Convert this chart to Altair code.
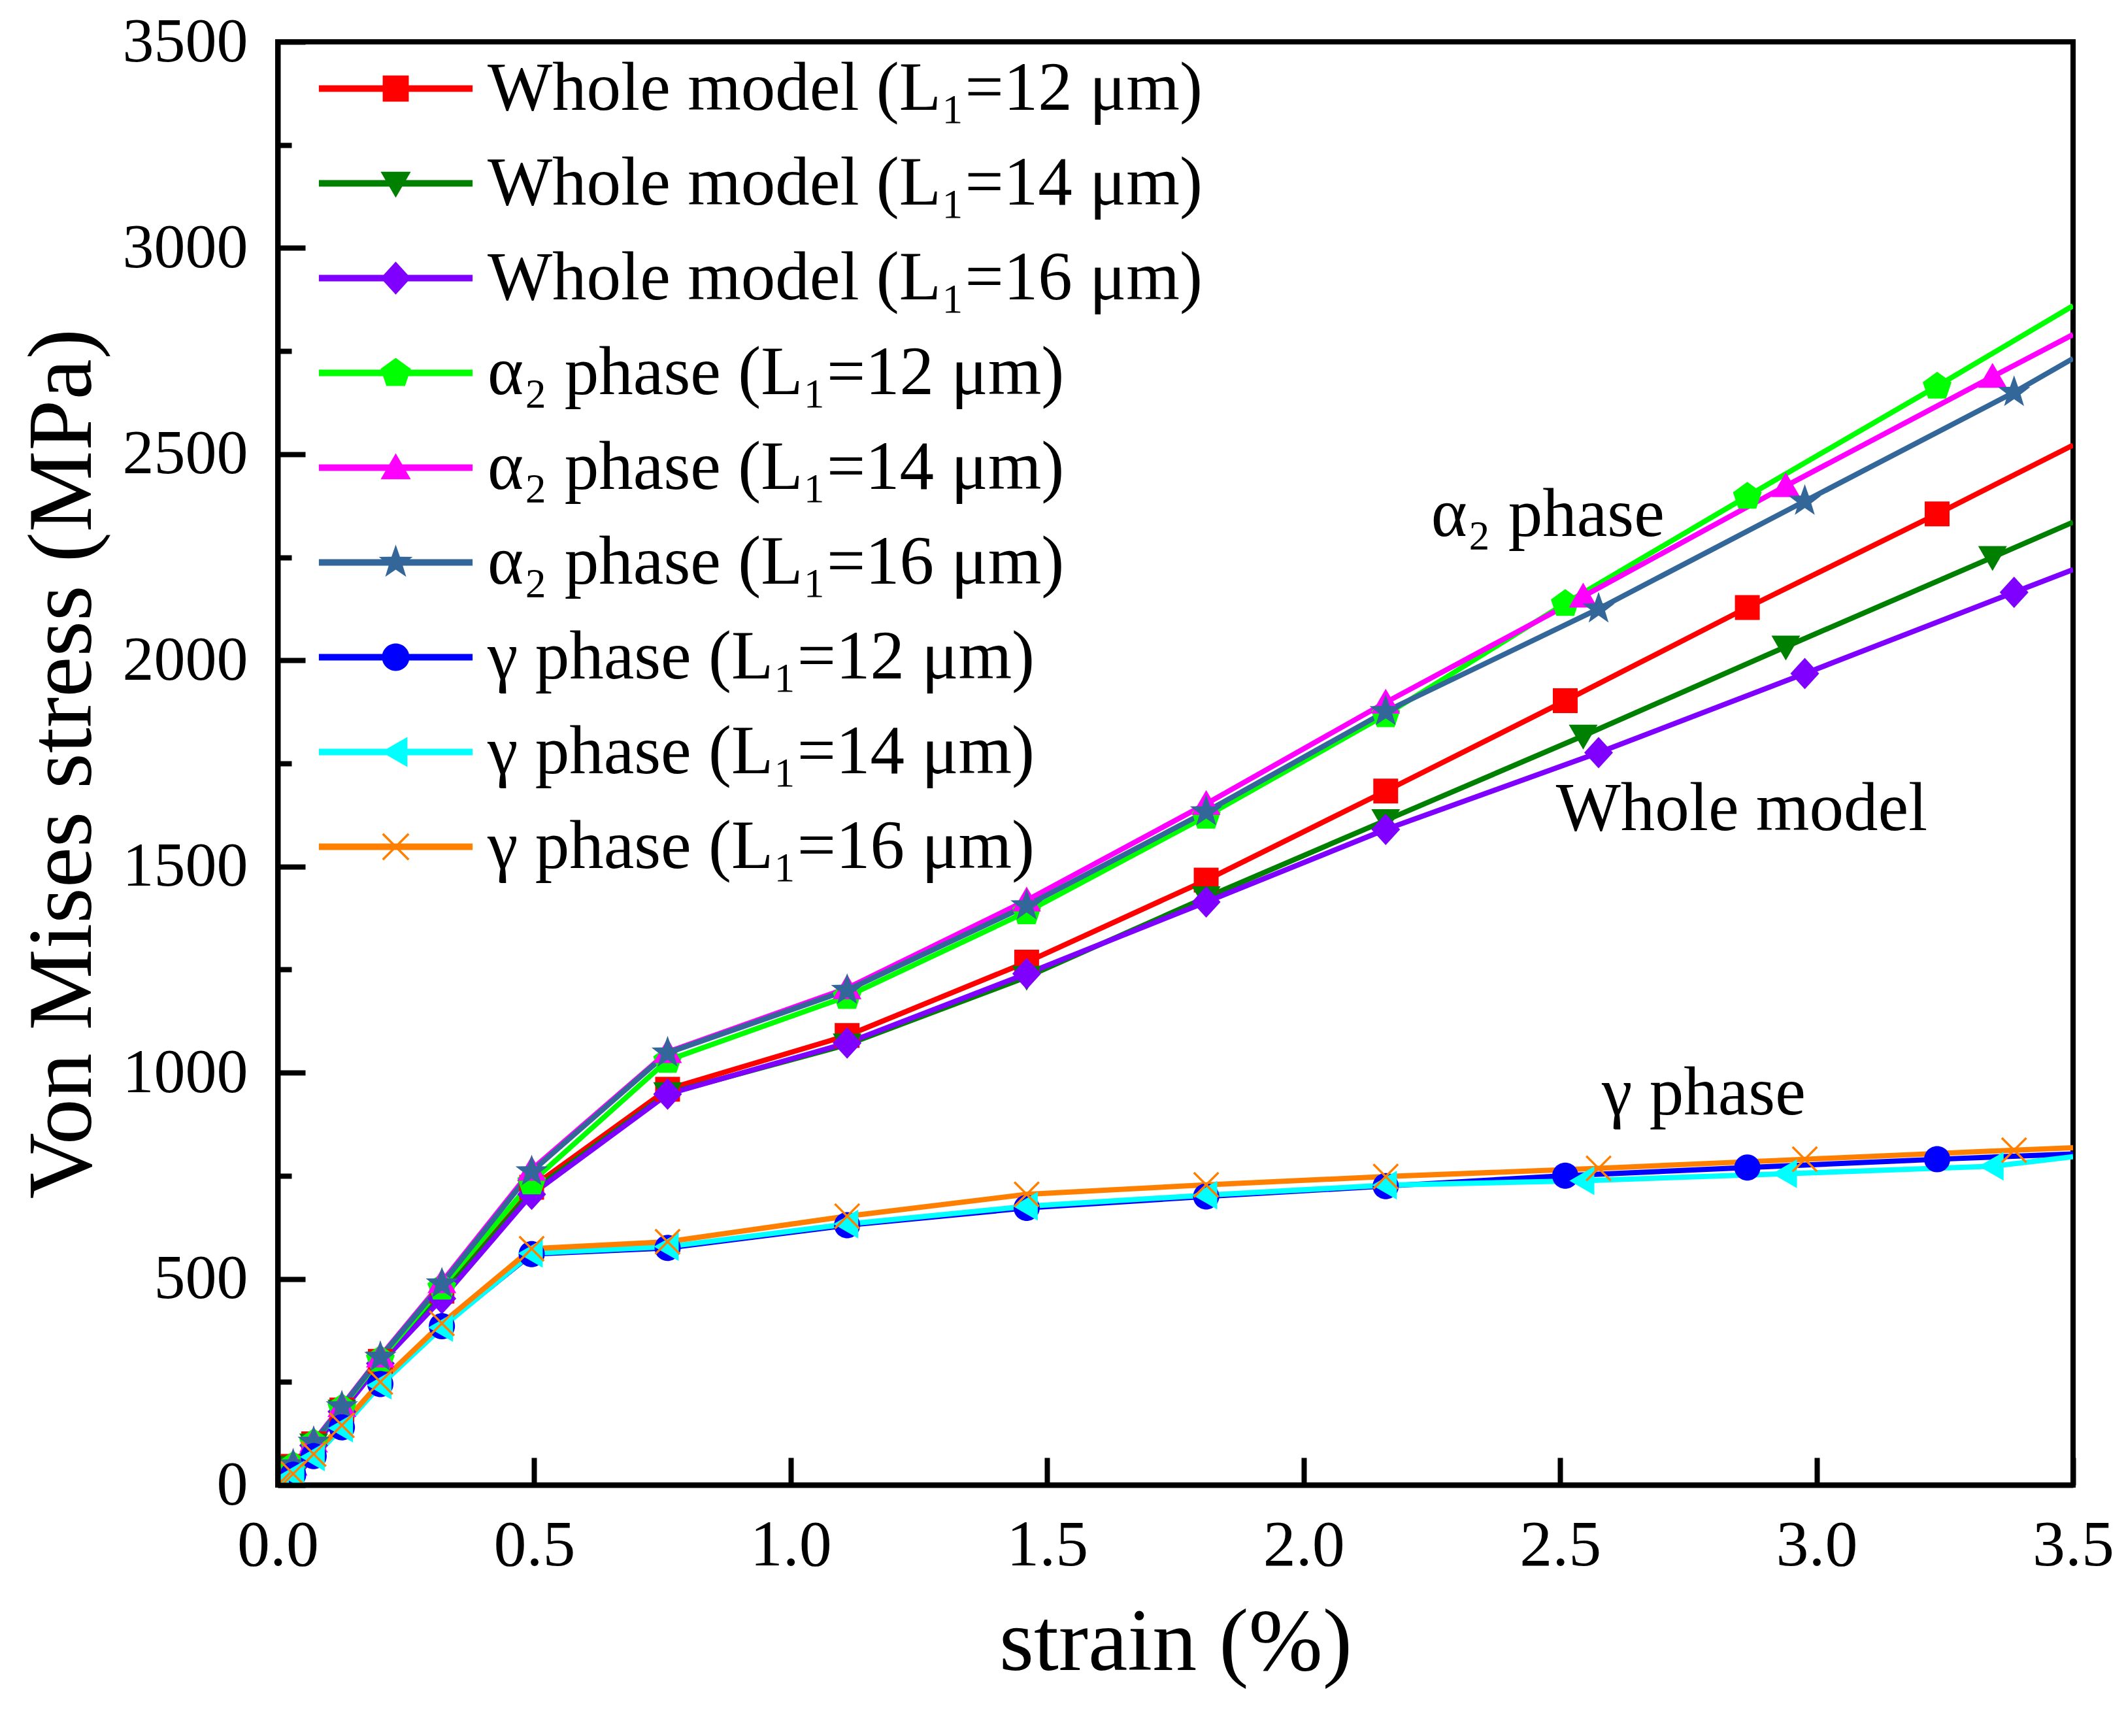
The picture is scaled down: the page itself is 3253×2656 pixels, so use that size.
import altair as alt
import pandas as pd

FONT = "Liberation Serif"

# ---- data ----
series_names = [
    "Whole model (L₁=12 μm)",
    "Whole model (L₁=14 μm)",
    "Whole model (L₁=16 μm)",
    "α₂ phase (L₁=12 μm)",
    "α₂ phase (L₁=14 μm)",
    "α₂ phase (L₁=16 μm)",
    "γ phase (L₁=12 μm)",
    "γ phase (L₁=14 μm)",
    "γ phase (L₁=16 μm)",
]
series_colors = ["#FF0000", "#008000", "#8000FF", "#00FF00", "#FF00FF",
                 "#336699", "#0000FF", "#00FFFF", "#FF8000"]

strain_common = [0, 0.03, 0.07, 0.125, 0.2, 0.32, 0.495, 0.76, 1.11, 1.46, 1.81, 2.16]
strain_tail_12 = [2.51, 2.865, 3.235, 3.5]
strain_tail_14 = [2.545, 2.94, 3.343, 3.5]
strain_tail_16 = [2.575, 2.977, 3.385, 3.5]

stress_whole_12 = [0, 45, 100, 182, 300, 470, 722, 960, 1090, 1268, 1467, 1683, 1902, 2128, 2355, 2522]
stress_whole_14 = [0, 44, 98, 180, 297, 460, 712, 950, 1068, 1232, 1425, 1612, 1817, 2033, 2250, 2335]
stress_whole_16 = [0, 43, 96, 178, 295, 452, 705, 948, 1072, 1240, 1414, 1590, 1776, 1968, 2165, 2220]
stress_alpha_12 = [0, 48, 103, 188, 305, 480, 735, 1030, 1185, 1390, 1622, 1868, 2138, 2398, 2665, 2860]
stress_alpha_14 = [0, 50, 106, 192, 312, 492, 765, 1050, 1205, 1418, 1652, 1898, 2155, 2423, 2688, 2790]
stress_alpha_16 = [0, 49, 104, 190, 310, 488, 760, 1048, 1200, 1405, 1633, 1876, 2125, 2386, 2650, 2732]
stress_gamma_12 = [0, 25, 70, 140, 245, 385, 560, 575, 630, 672, 700, 725, 750, 770, 790, 803]
stress_gamma_14 = [0, 24, 68, 138, 242, 382, 562, 578, 633, 676, 703, 727, 738, 755, 773, 796]
stress_gamma_16 = [0, 27, 75, 145, 250, 392, 573, 590, 652, 705, 728, 748, 768, 790, 812, 818]

annot_labels = ["α₂ phase", "Whole model", "γ phase"]
annot_strain = [2.476, 2.854, 2.78]
annot_stress = [2353, 1639, 950]

x_ticks = [0, 0.5, 1.0, 1.5, 2.0, 2.5, 3.0, 3.5]
y_ticks = [0, 500, 1000, 1500, 2000, 2500, 3000, 3500]
y_minor = [250, 750, 1250, 1750, 2250, 2750, 3250]

# marker outlines in unit coordinates (scaled by sqrt(size)/2)
markers = [
    "M-0.95,-0.95H0.95V0.95H-0.95Z",                                  # square
    "M-1.1,-0.85H1.1L0,1.05Z",                                        # triangle down
    "M0,-1.2L1.1,0L0,1.2L-1.1,0Z",                                    # diamond
    "M0,-1.1L1.1,-0.3L0.68,0.95L-0.68,0.95L-1.1,-0.3Z",               # pentagon
    "M0,-1.05L1.1,0.85H-1.1Z",                                        # triangle up
    "M0,-1.3L0.306,-0.421L1.236,-0.402L0.495,0.161L0.764,1.052L0,0.52"
    "L-0.764,1.052L-0.495,0.161L-1.236,-0.402L-0.306,-0.421Z",        # star
    "M-1,0A1,1,0,1,1,1,0A1,1,0,1,1,-1,0Z",                            # circle
    "M-1.05,0L0.85,-1.1V1.1Z",                                        # triangle left
    "M-1,-0.88L-0.88,-1L1,0.88L0.88,1Z M0.88,-1L1,-0.88L-0.88,1L-1,0.88Z",  # x
]
legend_line = "M-5.6,-0.24H5.6V0.24H-5.6Z"
legend_symbols = [legend_line + " " + m for m in markers]

tails = [strain_tail_12, strain_tail_14, strain_tail_16] * 3
stresses = [stress_whole_12, stress_whole_14, stress_whole_16,
            stress_alpha_12, stress_alpha_14, stress_alpha_16,
            stress_gamma_12, stress_gamma_14, stress_gamma_16]

rows = []
for name, tail, ys in zip(series_names, tails, stresses):
    for x, y in zip(strain_common + tail, ys):
        rows.append({"series": name, "strain": x, "stress": y})
df = pd.DataFrame(rows)

annot_df = pd.DataFrame({"label": annot_labels, "x": annot_strain, "y": annot_stress})

W, H = 2747, 2208

x_scale = alt.Scale(domain=[0, 3.5], nice=False, zero=False)
y_scale = alt.Scale(domain=[0, 3500], nice=False)
color_scale = alt.Scale(domain=series_names, range=series_colors)

x_label_axis = alt.Axis(values=x_ticks, format=".1f", grid=False, ticks=False, tickSize=0,
                        domain=True, domainColor="black", domainWidth=8, zindex=1,
                        labelFont=FONT, labelFontSize=100, labelColor="black",
                        labelPadding=43, labelFlush=False, labelOverlap=False, labelLimit=1000,
                        title="strain (%)", titleFont=FONT, titleFontSize=136,
                        titleFontWeight="normal", titleColor="black", titlePadding=33)
y_label_axis = alt.Axis(values=y_ticks, format="d", grid=False, ticks=False, tickSize=0,
                        domain=True, domainColor="black", domainWidth=8, zindex=1,
                        labelFont=FONT, labelFontSize=96, labelColor="black",
                        labelPadding=46, labelFlush=False, labelOverlap=False, labelLimit=1000,
                        title="Von Mises stress (MPa)", titleFont=FONT, titleFontSize=140,
                        titleFontWeight="normal", titleColor="black", titlePadding=58)
# inward ticks: axes flipped to the opposite side and shifted onto the frame
x_tick_axis = alt.Axis(orient="top", offset=-H, values=x_ticks, labels=False, domain=False,
                       grid=False, ticks=True, tickSize=42, tickWidth=8, tickColor="black",
                       title=None)
y_tick_axis = alt.Axis(orient="right", offset=-W, values=y_ticks, labels=False, domain=False,
                       grid=False, ticks=True, tickSize=42, tickWidth=8, tickColor="black",
                       title=None)
y_minor_axis = alt.Axis(orient="right", offset=-W, values=y_minor, labels=False, domain=False,
                        grid=False, ticks=True, tickSize=21, tickWidth=8, tickColor="black",
                        title=None)

base = alt.Chart(df)

lines = base.mark_line(strokeWidth=8, clip=True).encode(
    x=alt.X("strain:Q", scale=x_scale, axis=x_label_axis),
    y=alt.Y("stress:Q", scale=y_scale, axis=y_label_axis),
    color=alt.Color("series:N", scale=color_scale, legend=None),
)

points = base.transform_filter("datum.strain < 3.5").mark_point(
    filled=True, size=1600, opacity=1, strokeWidth=0, clip=True
).encode(
    x=alt.X("strain:Q", scale=x_scale, axis=x_tick_axis),
    y=alt.Y("stress:Q", scale=y_scale, axis=y_tick_axis),
    color=alt.Color("series:N", scale=color_scale, legend=None),
    shape=alt.Shape("series:N", scale=alt.Scale(domain=series_names, range=markers), legend=None),
)

legend_cfg = dict(title=None, orient="none", legendX=128, legendY=19, padding=0,
                  direction="vertical", labelFont=FONT, labelFontSize=105,
                  labelColor="black", labelLimit=3000, labelOffset=88,
                  symbolSize=1764, symbolStrokeWidth=0, symbolOpacity=1, rowPadding=39)

legend_layer = base.transform_filter("false").mark_point(filled=True, size=1764).encode(
    x=alt.X("strain:Q", scale=x_scale, axis=None),
    y=alt.Y("stress:Q", scale=y_scale, axis=y_minor_axis),
    color=alt.Color("series:N", scale=color_scale, legend=alt.Legend(**legend_cfg)),
    shape=alt.Shape("series:N", scale=alt.Scale(domain=series_names, range=legend_symbols),
                    legend=alt.Legend(**legend_cfg)),
)

annotations = alt.Chart(annot_df).mark_text(
    font=FONT, fontSize=105, align="center", baseline="middle", color="black"
).encode(
    x=alt.X("x:Q", scale=x_scale, axis=None),
    y=alt.Y("y:Q", scale=y_scale, axis=None),
    text="label:N",
)

chart = alt.layer(lines, points, legend_layer, annotations).resolve_scale(
    color="independent", shape="independent"
).resolve_axis(
    x="independent", y="independent"
).properties(
    width=W,
    height=H,
    padding={"left": 417, "top": 56, "right": 70, "bottom": 360},
    autosize=alt.AutoSizeParams(type="none"),
    background="white",
).configure_view(
    stroke="black", strokeWidth=8
)

chart.save("out.html", embed_options={"renderer": "svg", "actions": False})
